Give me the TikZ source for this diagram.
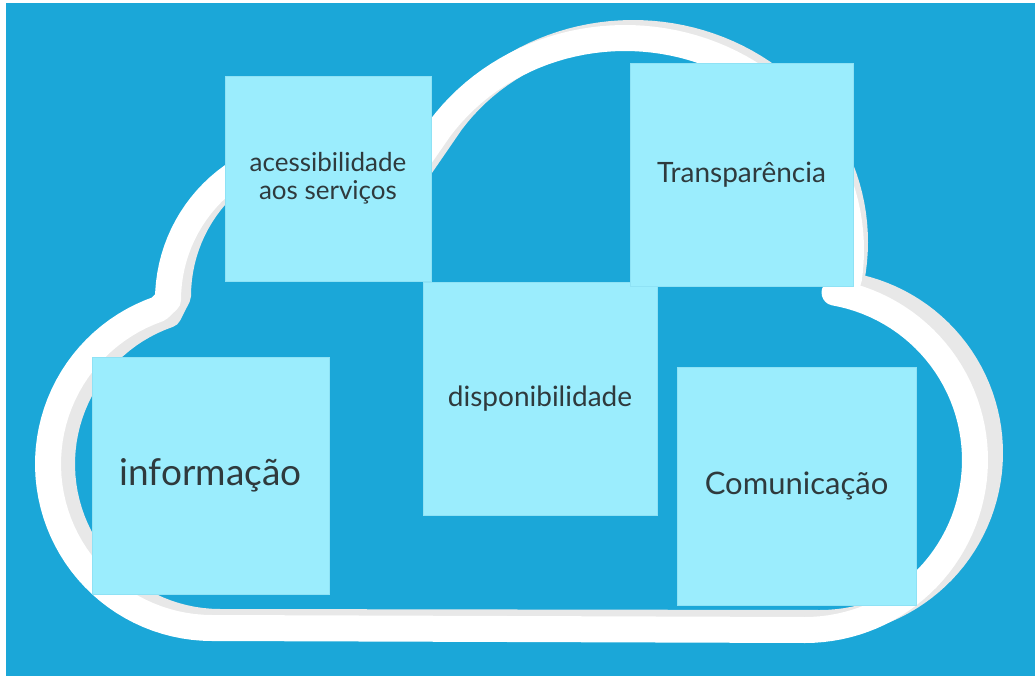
\documentclass[tikz,border=0pt]{standalone}
\usepackage{fontspec}
\setmainfont{Lato}
\definecolor{sky}{HTML}{1BA7D8}
\definecolor{notecyan}{HTML}{9BEDFD}
\definecolor{noteedge}{HTML}{8FE2F5}
\definecolor{cloudgrey}{HTML}{E8E8E8}
\definecolor{ink}{HTML}{2F3A3D}

\begin{document}
\begin{tikzpicture}[x=1pt,y=-1pt,
  note/.style={rectangle,fill=notecyan,draw=noteedge,line width=0.8pt,inner sep=0pt,
    align=center,text=ink},
  cloudline/.style={line width=26pt,line join=round,line cap=round}]

  \useasboundingbox (0,0) rectangle (1035,676);
  \fill[sky] (6,3) rectangle (1035,676);

  % grey shadow of the cloud (four lobes, pixels, y grows downwards)
  \draw[cloudline,draw=cloudgrey]
    plot[domain=90:251,samples=50] ({220+158*cos(\x)},{464+158*sin(\x)})
    -- plot[domain=180:305,samples=40] ({330+152*cos(\x)},{296+152*sin(\x)})
    -- plot[domain=215:368,samples=60] ({633+222*cos(\x)},{242+209*sin(\x)})
    -- plot[domain=280:450,samples=60] ({820+170*cos(\x)},{453+170*sin(\x)})
    -- cycle;
  % white cloud
  \draw[cloudline,draw=white]
    plot[domain=90:251,samples=50] ({212+164*cos(\x)},{464+164*sin(\x)})
    -- plot[domain=180:305,samples=40] ({320+152*cos(\x)},{300+152*sin(\x)})
    -- plot[domain=215:368,samples=60] ({625+226*cos(\x)},{250+212*sin(\x)})
    -- plot[domain=280:450,samples=60] ({805+170*cos(\x)},{460+170*sin(\x)})
    -- cycle;

  % sticky notes
  \node[note,minimum width=237pt,minimum height=237pt,font=\fontsize{37}{44}\selectfont]
    (info) at (210.5,475.5) {informação};
  \node[note,minimum width=206pt,minimum height=205pt,font=\fontsize{26}{28}\selectfont]
    (access) at (328,178.5) {acessibilidade\\aos serviços};
  \node[note,minimum width=234pt,minimum height=233pt,font=\fontsize{28}{34}\selectfont]
    (dispo) at (540,398.5) {disponibilidade};
  \node[note,minimum width=223pt,minimum height=223pt,font=\fontsize{28}{34}\selectfont]
    (transp) at (741.5,174.5) {Transparência};
  \node[note,minimum width=239pt,minimum height=238pt,font=\fontsize{31}{38}\selectfont]
    (comm) at (796.5,486) {Comunicação};
\end{tikzpicture}
\end{document}
